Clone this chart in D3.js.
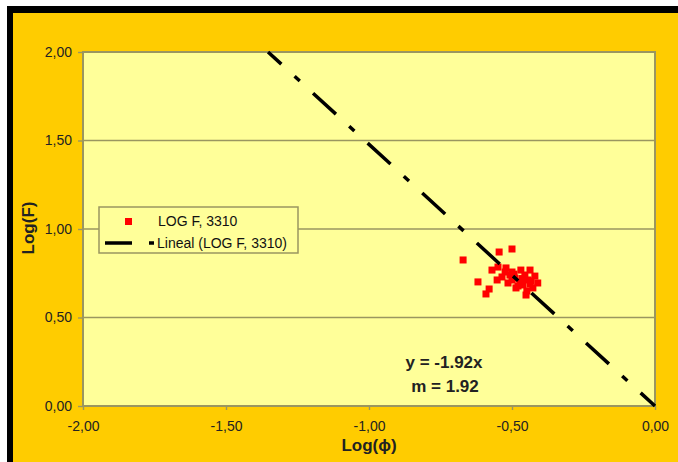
<!DOCTYPE html>
<html><head><meta charset="utf-8">
<script src="https://cdn.jsdelivr.net/npm/d3@7"></script>
<style>body{margin:0;background:#fff}svg{display:block}text{font-family:"Liberation Sans",Arial,sans-serif}</style>
</head><body>
<script>
// Data
const pointX = [-0.671,-0.545,-0.500,-0.619,-0.580,-0.591,-0.552,-0.549,-0.521,-0.500,-0.469,-0.437,-0.420,-0.444,-0.427,-0.462,-0.514,-0.490,-0.535,-0.472,-0.448,-0.434,-0.507,-0.486,-0.570,-0.455,-0.479,-0.437,-0.500,-0.524,-0.410,-0.451,-0.465,-0.493];
const pointY = [0.825,0.870,0.887,0.701,0.661,0.633,0.712,0.785,0.780,0.757,0.768,0.768,0.734,0.712,0.667,0.684,0.695,0.723,0.729,0.701,0.650,0.706,0.740,0.667,0.768,0.740,0.678,0.689,0.712,0.757,0.695,0.627,0.720,0.745];
const trendX = [-1.353, 0];
const trendY = [2.0, 0];
const xTicks = [-2,-1.5,-1,-0.5,0];
const yTicks = [0,0.5,1,1.5,2];
const seriesName = "LOG F, 3310";
const trendName = "Lineal (LOG F, 3310)";
const eqLines = ["y = -1.92x","m = 1.92"];

const W=678,H=462;
const m={l:83,t:52,r:655,b:406};
const svg=d3.select("body").append("svg").attr("width",W).attr("height",H);
svg.append("rect").attr("width",W).attr("height",H).attr("fill","#fff");
svg.append("rect").attr("x",7).attr("y",6).attr("width",W).attr("height",H).attr("fill","#000");
svg.append("rect").attr("x",13).attr("y",13).attr("width",W).attr("height",H).attr("fill","#FFCC00");

const x=d3.scaleLinear().domain([-2,0]).range([m.l,m.r]);
const y=d3.scaleLinear().domain([0,2]).range([m.b,m.t]);
const loc=d3.formatLocale({decimal:",",thousands:".",grouping:[3],currency:["",""],minus:"-"});
const fmt=loc.format(".2f");
const gridC="#9a9660";

svg.append("rect").attr("x",m.l).attr("y",m.t).attr("width",m.r-m.l).attr("height",m.b-m.t).attr("fill","#FFFF99");

// gridlines
svg.append("g").selectAll("line").data(yTicks.filter(v=>v>0&&v<2)).join("line")
  .attr("x1",m.l).attr("x2",m.r).attr("y1",d=>y(d)).attr("y2",d=>y(d))
  .attr("stroke",gridC).attr("stroke-width",1.4);

// axes
const gx=svg.append("g").attr("transform",`translate(0,${m.b})`)
  .call(d3.axisBottom(x).tickValues(xTicks).tickFormat(fmt).tickSize(4).tickPadding(11));
const gy=svg.append("g").attr("transform",`translate(${m.l},0)`)
  .call(d3.axisLeft(y).tickValues(yTicks).tickFormat(fmt).tickSize(5).tickPadding(6));
[gx,gy].forEach(g=>{
  g.select(".domain").remove();
  g.selectAll(".tick line").attr("stroke",gridC).attr("stroke-width",1.4);
  g.selectAll(".tick text").attr("fill","#222").style("font-size","14px");
});

svg.append("rect").attr("x",m.l).attr("y",m.t).attr("width",m.r-m.l).attr("height",m.b-m.t)
  .attr("fill","none").attr("stroke",gridC).attr("stroke-width",2);

// points
svg.append("g").selectAll("rect").data(pointX.map((v,i)=>[v,pointY[i]])).join("rect")
  .attr("x",d=>x(d[0])-3.5).attr("y",d=>y(d[1])-3.5).attr("width",7).attr("height",7)
  .attr("fill","#FF0000");

// trend line
svg.append("line").attr("x1",x(trendX[0])).attr("y1",y(trendY[0])).attr("x2",x(trendX[1])).attr("y2",y(trendY[1]))
  .attr("stroke","#000").attr("stroke-width",3.5).attr("stroke-dasharray","31,18,7,18").attr("stroke-dashoffset",13);

// legend
const lg=svg.append("g");
lg.append("rect").attr("x",99).attr("y",207).attr("width",199).attr("height",46)
  .attr("fill","#FFFF99").attr("stroke",gridC).attr("stroke-width",1.5);
lg.append("rect").attr("x",125).attr("y",218).attr("width",7).attr("height",7).attr("fill","#FF0000");
lg.append("text").attr("x",158).attr("y",226).text(seriesName).style("font-size","14px").attr("fill","#111");
lg.append("line").attr("x1",105).attr("x2",154).attr("y1",243).attr("y2",243)
  .attr("stroke","#000").attr("stroke-width",3.5).attr("stroke-dasharray","27,17,5,20");
lg.append("text").attr("x",157).attr("y",248).text(trendName).style("font-size","14px").attr("fill","#111");

// equation
svg.append("text").attr("x",444).attr("y",368).attr("text-anchor","middle").text(eqLines[0])
  .style("font-size","17px").style("font-weight","bold").attr("fill","#222");
svg.append("text").attr("x",445).attr("y",392).attr("text-anchor","middle").text(eqLines[1])
  .style("font-size","17px").style("font-weight","bold").attr("fill","#222");

// axis titles
svg.append("text").attr("transform","translate(34,228) rotate(-90)").attr("text-anchor","middle")
  .text("Log(F)").style("font-size","17px").style("font-weight","bold").attr("fill","#222");
svg.append("text").attr("x",369).attr("y",451).attr("text-anchor","middle")
  .text("Log(\u03D5)").style("font-size","17px").style("font-weight","bold").attr("fill","#222");
</script>
</body></html>
